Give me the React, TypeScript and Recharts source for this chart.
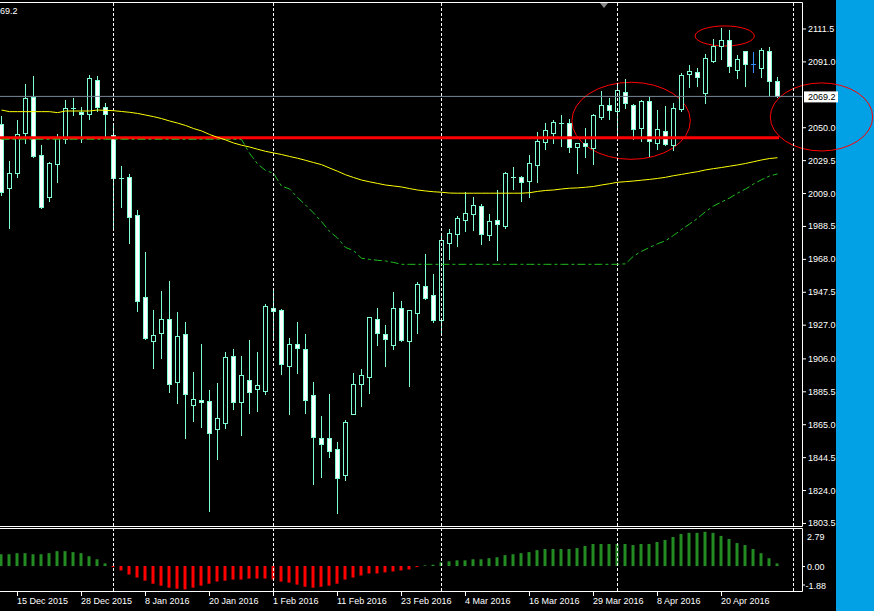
import React from 'react';
import { ComposedChart, Bar, Line, XAxis, YAxis, ReferenceLine, ReferenceArea, Cell } from 'recharts';

// ---- Candles (daily, index 0 = leftmost) ----
const opens = [2051.8, 2012.0, 2021.7, 2046.2, 2068.6, 2032.5, 2006.4, 2026.9, 2042.5, 2061.8, 2059.7, 2058.1, 2079.4, 2062.8, 2045.0, 2018.2, 2018.8, 1995.2, 1944.1, 1917.0, 1922.0, 1930.4, 1891.5, 1921.0, 1877.2, 1880.1, 1879.5, 1862.2, 1866.0, 1907.3, 1879.1, 1892.6, 1887.1, 1885.9, 1937.4, 1936.2, 1901.5, 1914.8, 1911.7, 1883.0, 1856.3, 1856.3, 1849.4, 1833.6, 1871.6, 1890.3, 1894.6, 1930.4, 1921.0, 1914.6, 1937.2, 1917.0, 1934.5, 1950.9, 1945.3, 1930.1, 1978.1, 1983.7, 1992.4, 1995.8, 2000.8, 1983.1, 1992.0, 1988.7, 2019.2, 2018.8, 2016.7, 2026.7, 2040.6, 2046.2, 2052.6, 2052.4, 2037.9, 2040.4, 2037.3, 2056.6, 2063.7, 2060.3, 2071.8, 2063.7, 2049.7, 2066.3, 2040.4, 2047.5, 2039.1, 2061.4, 2083.0, 2084.2, 2071.1, 2091.4, 2100.8, 2104.2, 2085.8, 2097.3, 2089.4, 2087.1, 2097.3, 2078.8];
const highs = [2057.0, 2029.0, 2054.5, 2076.9, 2081.9, 2038.9, 2028.5, 2045.8, 2067.0, 2068.0, 2062.8, 2082.5, 2081.9, 2064.9, 2050.5, 2025.9, 2020.9, 1998.5, 1972.1, 1936.2, 1948.0, 1954.2, 1934.9, 1928.7, 1897.5, 1915.0, 1886.3, 1890.9, 1910.0, 1911.9, 1907.5, 1917.5, 1910.0, 1939.9, 1948.6, 1936.8, 1918.5, 1928.7, 1921.2, 1891.3, 1870.1, 1883.8, 1854.0, 1867.7, 1896.9, 1899.4, 1932.0, 1937.2, 1926.8, 1947.4, 1941.8, 1936.2, 1953.4, 1971.0, 1958.6, 1982.4, 1986.6, 1994.5, 2009.5, 2006.4, 2002.0, 1995.8, 2010.9, 2022.1, 2025.2, 2019.6, 2032.7, 2047.0, 2052.5, 2054.5, 2057.4, 2054.9, 2040.2, 2049.5, 2058.1, 2072.6, 2068.2, 2075.9, 2080.0, 2064.3, 2067.0, 2068.6, 2060.7, 2063.2, 2064.9, 2084.0, 2088.8, 2086.7, 2095.6, 2105.0, 2111.8, 2110.6, 2095.0, 2097.6, 2096.9, 2099.4, 2100.0, 2081.3];
const lows = [2007.8, 1987.2, 2019.2, 2040.0, 2031.6, 1999.9, 2004.2, 2016.1, 2040.0, 2057.6, 2041.0, 2055.1, 2060.3, 2044.1, 1987.7, 2000.5, 1978.1, 1935.7, 1917.9, 1900.2, 1906.5, 1885.3, 1878.4, 1856.6, 1867.2, 1863.5, 1811.2, 1843.5, 1862.9, 1874.5, 1858.5, 1872.2, 1873.4, 1883.8, 1919.5, 1896.5, 1871.6, 1896.9, 1872.2, 1828.0, 1832.3, 1844.8, 1809.9, 1830.3, 1871.2, 1876.6, 1884.7, 1914.6, 1901.5, 1912.1, 1917.0, 1889.0, 1922.0, 1943.0, 1928.9, 1920.8, 1968.1, 1976.2, 1985.6, 1986.2, 1977.5, 1980.0, 1967.3, 1987.4, 2011.5, 2004.1, 2006.7, 2016.1, 2036.6, 2040.4, 2038.5, 2034.8, 2021.7, 2031.6, 2027.3, 2055.1, 2055.3, 2044.1, 2062.0, 2042.5, 2041.6, 2032.1, 2036.6, 2039.1, 2035.8, 2060.3, 2075.2, 2075.9, 2065.3, 2090.4, 2092.3, 2084.6, 2080.9, 2075.9, 2084.6, 2081.5, 2070.3, 2069.0];
const closes = [2009.9, 2021.3, 2045.6, 2068.0, 2032.3, 2000.5, 2027.5, 2043.1, 2061.8, 2061.8, 2058.1, 2080.5, 2062.8, 2058.1, 2018.2, 2018.2, 1994.3, 1942.0, 1918.9, 1920.4, 1930.4, 1890.1, 1919.8, 1883.8, 1880.7, 1878.9, 1859.4, 1868.7, 1906.9, 1879.1, 1895.5, 1885.3, 1889.3, 1938.7, 1935.7, 1902.7, 1914.8, 1912.3, 1880.3, 1857.3, 1852.5, 1848.5, 1831.7, 1866.2, 1889.9, 1895.5, 1931.6, 1922.0, 1917.9, 1937.2, 1917.5, 1936.0, 1952.2, 1943.4, 1930.1, 1979.6, 1983.9, 1993.3, 1996.4, 2001.4, 1983.7, 1991.4, 1989.5, 2021.3, 2019.2, 2016.1, 2027.5, 2041.2, 2048.1, 2053.1, 2052.6, 2037.9, 2040.0, 2038.3, 2057.4, 2063.7, 2060.5, 2073.0, 2064.9, 2049.1, 2066.3, 2041.6, 2048.9, 2039.7, 2061.8, 2082.5, 2085.0, 2081.5, 2092.9, 2100.6, 2104.2, 2088.3, 2092.3, 2089.6, 2089.4, 2097.9, 2079.0, 2069.2];

// ---- Moving average (yellow) ----
const maYellow = [2060.7, 2059.7, 2059.7, 2059.7, 2059.7, 2059.7, 2059.7, 2059.1, 2060.1, 2060.1, 2060.1, 2060.1, 2060.7, 2060.5, 2060.3, 2059.8, 2059.3, 2058.6, 2057.6, 2056.6, 2055.4, 2053.9, 2052.6, 2051.1, 2049.2, 2047.7, 2045.5, 2043.7, 2042.1, 2040.2, 2038.8, 2037.7, 2036.3, 2035.0, 2034.0, 2033.0, 2031.8, 2030.7, 2029.4, 2028.0, 2026.7, 2024.6, 2022.6, 2020.4, 2018.7, 2017.1, 2016.0, 2015.0, 2014.0, 2013.4, 2012.8, 2011.8, 2010.9, 2010.3, 2009.8, 2009.5, 2009.0, 2008.9, 2008.9, 2008.9, 2008.9, 2008.9, 2008.9, 2008.9, 2008.9, 2008.9, 2009.2, 2010.0, 2010.6, 2010.9, 2011.5, 2012.0, 2012.2, 2012.6, 2013.1, 2014.0, 2014.8, 2015.7, 2016.1, 2016.5, 2017.0, 2017.5, 2018.1, 2018.8, 2019.8, 2020.6, 2021.5, 2022.3, 2023.4, 2024.2, 2024.9, 2025.7, 2026.5, 2027.4, 2028.5, 2029.6, 2030.5, 2031.0];

// ---- Green dash-dot line ----
const greenLine = [2042.5, 2042.5, 2042.5, 2042.5, 2042.5, 2042.5, 2042.5, 2042.5, 2042.5, 2042.5, 2042.5, 2042.5, 2042.5, 2042.5, 2042.5, 2042.5, 2042.5, 2042.5, 2042.5, 2042.5, 2042.5, 2042.5, 2042.5, 2042.5, 2042.5, 2042.5, 2042.5, 2042.5, 2042.5, 2042.5, 2042.4, 2033.8, 2027.2, 2023.1, 2021.3, 2013.3, 2011.6, 2006.2, 2001.6, 1996.6, 1991.2, 1985.1, 1981.0, 1975.1, 1973.2, 1968.4, 1967.7, 1967.1, 1966.7, 1965.8, 1964.6, 1964.6, 1964.6, 1964.6, 1964.6, 1964.6, 1964.6, 1964.6, 1964.6, 1964.6, 1964.6, 1964.6, 1964.6, 1964.6, 1964.6, 1964.6, 1964.6, 1964.6, 1964.6, 1964.6, 1964.6, 1964.6, 1964.6, 1964.6, 1964.6, 1964.6, 1964.6, 1964.6, 1964.9, 1969.7, 1972.7, 1975.1, 1977.4, 1979.3, 1982.6, 1986.3, 1989.7, 1993.2, 1997.4, 2000.9, 2003.4, 2005.9, 2008.9, 2011.5, 2014.6, 2017.3, 2019.6, 2020.9];

// ---- Oscillator histogram ----
const oscValues = [0.89, 0.89, 0.97, 0.97, 0.89, 0.89, 0.97, 1.12, 1.12, 1.05, 0.97, 0.74, 0.51, 0.20, -0.08, -0.33, -0.64, -0.87, -1.10, -1.33, -1.48, -1.63, -1.71, -1.76, -1.63, -1.48, -1.33, -1.17, -1.10, -1.02, -1.02, -0.94, -0.94, -0.94, -1.02, -1.17, -1.25, -1.40, -1.56, -1.63, -1.56, -1.48, -1.33, -1.02, -0.87, -0.71, -0.56, -0.56, -0.48, -0.41, -0.33, -0.26, -0.08, 0.05, 0.10, 0.28, 0.36, 0.43, 0.43, 0.51, 0.51, 0.59, 0.66, 0.82, 0.89, 0.97, 1.05, 1.20, 1.28, 1.28, 1.28, 1.28, 1.35, 1.51, 1.66, 1.66, 1.66, 1.66, 1.66, 1.58, 1.66, 1.66, 1.81, 1.96, 2.19, 2.42, 2.50, 2.50, 2.58, 2.50, 2.27, 2.04, 1.73, 1.58, 1.28, 0.97, 0.59, 0.20];

// ---- Axes / levels ----
const dateTickIdx = [2, 10, 18, 26, 34, 42, 50, 58, 66, 74, 82, 90];
const dateTickLabels = ['15 Dec 2015', '28 Dec 2015', '8 Jan 2016', '20 Jan 2016', '1 Feb 2016', '11 Feb 2016', '23 Feb 2016', '4 Mar 2016', '16 Mar 2016', '29 Mar 2016', '8 Apr 2016', '20 Apr 2016'];
const priceTicks = [2111.5, 2091.0, 2069.2, 2050.0, 2029.5, 2009.0, 1988.5, 1968.0, 1947.5, 1927.0, 1906.0, 1885.5, 1865.0, 1844.5, 1824.0, 1803.5];
const oscTicks = [2.79, 0, -1.88];
const lastPrice = 2069.2;
const supportLevel = 2043.5;
const supportEndIdx = 97.2;
const monthStarts = [14, 34, 55, 77, 99];
const blueCandleIdx = 94;
// annotation ellipses: [idxFrom, idxTo, priceLow, priceHigh]
const ellipses = [
  [71.3, 86.1, 2030.0, 2078.0],
  [86.7, 94.1, 2100.6, 2113.1],
  [96.1, 108.9, 2035.2, 2077.6],
];

const priceDomain = [1801.6, 2128.0];
const idxDomain = [-0.1875, 100.0625];
const oscDomain = [-1.88, 2.79];

const FONT = "'Liberation Sans', Arial, sans-serif";
const CANDLE = '#7fffd4';

const data = opens.map((o, i) => ({
  k: i,
  o,
  h: highs[i],
  l: lows[i],
  c: closes[i],
  range: [lows[i], highs[i]],
  ma: maYellow[i],
  grn: greenLine[i],
  osc: oscValues[i],
}));

const CandleShape = (props: any) => {
  const { x, y, width, height, payload } = props;
  if (x == null || y == null || !payload) return null;
  const cx = Math.floor(x + width / 2) + 0.5;
  const top = Math.min(y, y + height);
  const bottom = Math.max(y, y + height);
  const { o, h, l, c, k } = payload;
  const span = h - l || 1;
  const py = (v: number) => top + ((h - v) / span) * (bottom - top);
  const snap = (v: number) => Math.round(v) + 0.5;
  const color = k === blueCandleIdx ? '#2f8fff' : CANDLE;
  const yo = snap(py(o));
  const yc = snap(py(c));
  const yTop = Math.round(top);
  const yBot = Math.round(bottom) + 1;
  return (
    <g shapeRendering="crispEdges">
      <line x1={cx} x2={cx} y1={yTop} y2={yBot} stroke={color} strokeWidth={1} />
      {o === c ? (
        <line x1={cx - 2.5} x2={cx + 2.5} y1={yo} y2={yo} stroke={color} strokeWidth={1} />
      ) : (
        <rect
          x={cx - 2}
          y={Math.min(yo, yc)}
          width={4}
          height={Math.max(1, Math.abs(yc - yo))}
          fill={c < o ? '#ffffff' : '#000000'}
          stroke={color}
          strokeWidth={1}
        />
      )}
    </g>
  );
};

const PriceTick = (props: any) => {
  const { x, y, payload } = props;
  const v = payload.value;
  if (v === lastPrice) {
    return (
      <g>
        <rect x={x + 2} y={y - 5} width={34} height={11} fill="#ffffff" />
        <text x={x + 6} y={y + 3.5} fill="#000000" fontSize={9} fontFamily={FONT}>{v.toFixed(1)}</text>
      </g>
    );
  }
  return (
    <g>
      <line x1={x + 1} x2={x + 4} y1={y + 0.5} y2={y + 0.5} stroke="#ffffff" />
      <text x={x + 6} y={y + 3.5} fill="#ffffff" fontSize={9} fontFamily={FONT}>{v.toFixed(1)}</text>
    </g>
  );
};

const OscTick = (props: any) => {
  const { x, y, payload } = props;
  const v = payload.value;
  const dy = v === oscDomain[1] ? 7 : v === oscDomain[0] ? -6 : 0.5;
  return (
    <g>
      {v !== oscDomain[1] && <line x1={x + 1} x2={x + 3} y1={y + dy} y2={y + dy} stroke="#ffffff" />}
      <text x={x + (v < 0 ? 3.5 : 5)} y={y + dy + 3.5} fill="#ffffff" fontSize={9} fontFamily={FONT}>{v.toFixed(2)}</text>
    </g>
  );
};

const DateTick = (props: any) => {
  const { x, y, payload } = props;
  const i = dateTickIdx.indexOf(payload.value);
  const tx = Math.floor(x) + 0.5;
  return (
    <g>
      <line x1={tx} x2={tx} y1={y} y2={y + 5} stroke="#ffffff" />
      <text x={tx - 0.5} y={y + 13} fill="#ffffff" fontSize={9} fontFamily={FONT}>{dateTickLabels[i]}</text>
    </g>
  );
};

const EllipseShape = (p: any) => (
  <ellipse
    cx={p.x + p.width / 2}
    cy={p.y + p.height / 2}
    rx={Math.abs(p.width / 2)}
    ry={Math.abs(p.height / 2)}
    fill="none"
    stroke="#ff0000"
    strokeWidth={1}
  />
);

export default function App() {
  return (
    <div style={{ position: 'absolute', left: 0, top: 0, width: 874, height: 611, background: '#000', overflow: 'hidden' }}>
      <div style={{ position: 'absolute', left: 836, top: 0, width: 38, height: 611, background: '#02a0e4' }} />

      {/* main price panel */}
      <div style={{ position: 'absolute', left: 0, top: 0 }}>
        <ComposedChart width={874} height={611} data={data} margin={{ top: 2, right: 0, bottom: 85, left: 0 }}>
          <XAxis dataKey="k" type="number" domain={idxDomain} allowDataOverflow hide />
          <YAxis
            orientation="right"
            type="number"
            domain={priceDomain}
            allowDataOverflow
            ticks={priceTicks}
            interval={0}
            width={72}
            axisLine={false}
            tickLine={false}
            tickSize={0}
            tickMargin={0}
            tick={<PriceTick />}
          />
          {monthStarts.map((m) => (
            <ReferenceLine key={m} x={m} stroke="#ffffff" strokeDasharray="3 2" />
          ))}
          <ReferenceLine y={lastPrice} stroke="#778899" />
          <ReferenceLine
            segment={[{ x: -2, y: supportLevel }, { x: supportEndIdx, y: supportLevel }]}
            stroke="#ff0000"
            strokeWidth={3}
            ifOverflow="visible"
          />
          <Line dataKey="grn" stroke="#1fbf1f" strokeWidth={1} strokeDasharray="8 3 3 3" dot={false} isAnimationActive={false} type="linear" />
          <Line dataKey="ma" stroke="#ffff00" strokeWidth={1} dot={false} isAnimationActive={false} type="linear" />
          <Bar dataKey="range" barSize={5} shape={(p: any) => <CandleShape {...p} />} isAnimationActive={false} />
          {ellipses.map((e, i) => (
            <ReferenceArea
              key={i}
              x1={e[0]}
              x2={e[1]}
              y1={e[2]}
              y2={e[3]}
              ifOverflow="visible"
              shape={(p: any) => <EllipseShape {...p} />}
            />
          ))}
        </ComposedChart>
      </div>

      {/* oscillator panel */}
      <div style={{ position: 'absolute', left: 0, top: 0 }}>
        <ComposedChart width={874} height={611} data={data} margin={{ top: 529, right: 0, bottom: 0, left: 0 }}>
          <XAxis
            dataKey="k"
            type="number"
            domain={idxDomain}
            allowDataOverflow
            ticks={dateTickIdx}
            interval={0}
            height={20}
            axisLine={false}
            tickLine={false}
            tickSize={0}
            tickMargin={0}
            tick={<DateTick />}
          />
          <YAxis
            orientation="right"
            type="number"
            domain={oscDomain}
            allowDataOverflow
            ticks={oscTicks}
            interval={0}
            width={72}
            axisLine={false}
            tickLine={false}
            tickSize={0}
            tickMargin={0}
            tick={<OscTick />}
          />
          {monthStarts.map((m) => (
            <ReferenceLine key={m} x={m} stroke="#ffffff" strokeDasharray="3 2" />
          ))}
          <Bar dataKey="osc" barSize={3} isAnimationActive={false}>
            {data.map((d) => (
              <Cell key={d.k} fill={d.osc >= 0 ? '#228b22' : '#ff0000'} />
            ))}
          </Bar>
        </ComposedChart>
      </div>

      {/* frames and chart chrome */}
      <svg width={874} height={611} style={{ position: 'absolute', left: 0, top: 0, pointerEvents: 'none' }}>
        <polyline points="0,2.5 802.5,2.5 802.5,526.5 0,526.5" fill="none" stroke="#ffffff" />
        <polyline points="0,528.5 802.5,528.5 802.5,591.5 0,591.5" fill="none" stroke="#ffffff" />
        <polygon points="600,3 608,3 604,8" fill="#8a8a8a" />
        <text x={0} y={14} fill="#ffffff" fontSize={9} fontFamily={FONT}>69.2</text>
      </svg>
    </div>
  );
}
